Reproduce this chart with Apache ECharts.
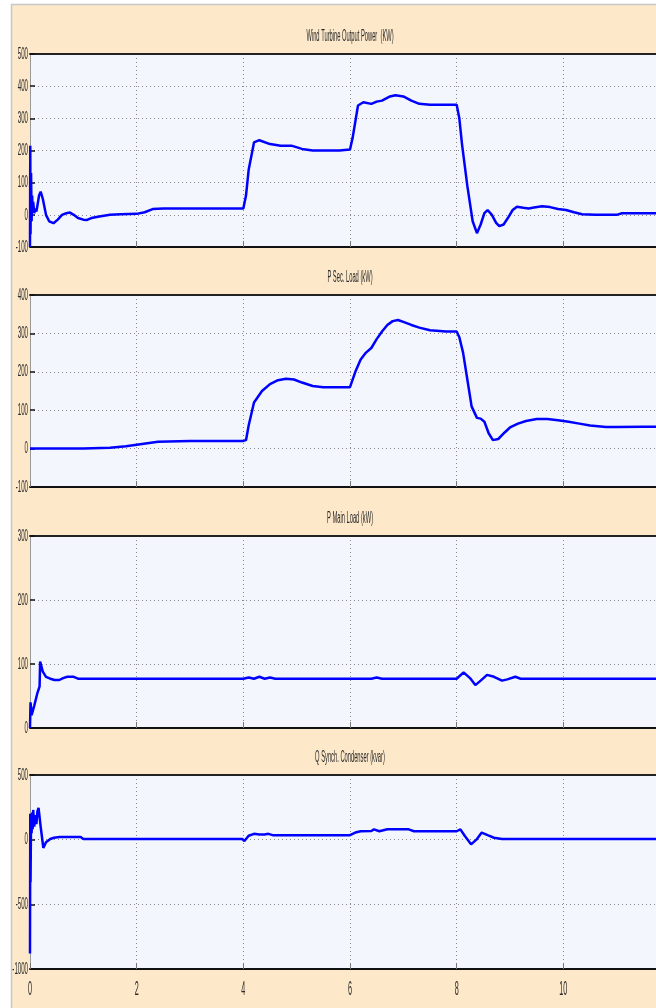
<!DOCTYPE html>
<html>
<head>
<meta charset="utf-8">
<script src="https://cdn.jsdelivr.net/npm/echarts@6/dist/echarts.min.js"></script>
<style>
  html, body { margin: 0; padding: 0; background: #ffffff; }
  #chart { width: 656px; height: 1008px; }
</style>
</head>
<body>
<div id="chart"></div>
<script>
// Panel titles
const titles = [
  'Wind Turbine Output Power  (KW)',
  'P Sec. Load (kW)',
  'P Main Load (kW)',
  'Q Synch. Condenser (kvar)'
];

// Time axis ticks (s)
const xTicks = [0, 2, 4, 6, 8, 10, 12];

// Wind turbine output power (kW)
const windT = [0, 0.005, 0.01, 0.02, 0.03, 0.04, 0.05, 0.06, 0.08, 0.1, 0.12, 0.14, 0.17, 0.2, 0.24, 0.3, 0.36, 0.44, 0.52, 0.6, 0.68, 0.75, 0.82, 0.9, 1.0, 1.07, 1.15, 1.3, 1.5, 1.7, 2.0, 2.15, 2.3, 2.5, 3.0, 3.5, 4.0, 4.05, 4.1, 4.2, 4.3, 4.5, 4.7, 4.9, 5.1, 5.3, 5.5, 5.8, 6.0, 6.05, 6.15, 6.25, 6.4, 6.5, 6.6, 6.75, 6.85, 7.0, 7.15, 7.3, 7.5, 7.8, 8.0, 8.05, 8.1, 8.2, 8.3, 8.38, 8.45, 8.52, 8.58, 8.66, 8.74, 8.8, 8.88, 8.96, 9.05, 9.13, 9.25, 9.35, 9.45, 9.6, 9.75, 9.9, 10.05, 10.2, 10.35, 10.6, 11.0, 11.1, 11.5, 12];
const windP = [-100, 215, -60, 130, -20, 60, 10, 40, 5, 20, 10, 30, 60, 72, 50, 0, -20, -26, -15, 0, 5, 7, 0, -10, -15, -16, -10, -5, 0, 2, 3, 8, 18, 20, 20, 20, 20, 60, 140, 225, 232, 220, 215, 215, 205, 200, 200, 200, 203, 240, 340, 350, 345, 352, 355, 368, 372, 368, 355, 345, 342, 342, 342, 300, 220, 90, -20, -57, -30, 5, 15, 0, -25, -35, -30, -10, 15, 25, 22, 20, 23, 27, 24, 18, 15, 8, 2, 0, 0, 5, 5, 5];

// Secondary load active power (kW)
const secT = [0, 1.0, 1.5, 1.8, 2.1, 2.4, 3.0, 3.5, 4.0, 4.05, 4.1, 4.2, 4.35, 4.5, 4.65, 4.8, 4.95, 5.1, 5.3, 5.5, 5.8, 6.0, 6.1, 6.2, 6.3, 6.4, 6.5, 6.6, 6.7, 6.8, 6.9, 7.0, 7.15, 7.3, 7.5, 7.8, 8.0, 8.05, 8.12, 8.2, 8.28, 8.38, 8.45, 8.52, 8.6, 8.68, 8.78, 8.9, 9.0, 9.15, 9.3, 9.5, 9.7, 9.9, 10.1, 10.3, 10.5, 10.8, 11.0, 11.5, 12];
const secP = [0, 0, 2, 6, 12, 18, 20, 20, 20, 22, 60, 120, 150, 168, 178, 182, 180, 172, 163, 160, 160, 160, 200, 232, 250, 262, 285, 305, 322, 332, 335, 330, 322, 315, 308, 305, 305, 290, 250, 180, 110, 80, 78, 70, 40, 22, 25, 42, 55, 65, 72, 77, 77, 74, 70, 65, 60, 56, 56, 57, 57];

// Main load active power (kW)
const mainT = [0, 0.01, 0.03, 0.08, 0.14, 0.18, 0.19, 0.24, 0.3, 0.38, 0.46, 0.55, 0.62, 0.7, 0.82, 0.9, 2, 4.0, 4.1, 4.2, 4.3, 4.4, 4.5, 4.6, 6.4, 6.5, 6.6, 8.0, 8.13, 8.25, 8.35, 8.45, 8.57, 8.7, 8.85, 8.95, 9.1, 9.2, 12];
const mainP = [0, 40, 20, 35, 55, 65, 104, 88, 80, 77, 75, 75, 78, 80, 80, 77, 77, 77, 79, 77, 80, 77, 79, 77, 77, 79, 77, 77, 87, 78, 67, 74, 83, 80, 74, 76, 80, 77, 77];

// Synchronous condenser reactive power (kvar)
const synT = [0, 0.005, 0.01, 0.02, 0.03, 0.04, 0.05, 0.06, 0.08, 0.1, 0.12, 0.14, 0.16, 0.2, 0.25, 0.3, 0.38, 0.45, 0.55, 0.65, 0.95, 1.0, 3.98, 4.02, 4.1, 4.2, 4.3, 4.4, 4.47, 4.55, 6.0, 6.1, 6.2, 6.4, 6.45, 6.55, 6.7, 7.1, 7.2, 8.0, 8.07, 8.15, 8.27, 8.37, 8.47, 8.58, 8.7, 8.85, 12];
const synQ = [-880, 200, -330, 180, 50, 210, 80, 230, 100, 190, 120, 220, 245, 100, -64, -20, 5, 15, 20, 20, 20, 5, 5, -10, 30, 45, 40, 40, 45, 35, 35, 55, 65, 67, 80, 65, 80, 80, 65, 65, 80, 30, -36, 0, 55, 35, 15, 5, 5];

// Y ticks per panel
const yTicks = [
  [-100, 0, 100, 200, 300, 400, 500],
  [-100, 0, 100, 200, 300, 400],
  [0, 100, 200, 300],
  [-1000, -500, 0, 500]
];

const seriesT = [windT, secT, mainT, synT];
const seriesV = [windP, secP, mainP, synQ];

const font = "'Liberation Sans', Arial, sans-serif";
const textColor = '#2a2a2a';
const squeeze = 0.36;   // narrow, tall lettering
const panels = [
  { top: 54, height: 193 },
  { top: 295, height: 192 },
  { top: 536, height: 192 },
  { top: 775, height: 194 }
];
const plotLeft = 30;

const chart = echarts.init(document.getElementById('chart'), null, { renderer: 'canvas' });

const grid = [], xAxis = [], yAxis = [], series = [];
panels.forEach((p, i) => {
  const ticks = yTicks[i];
  grid.push({ left: plotLeft, right: -14, top: p.top, height: p.height, show: true,
    containLabel: false, outerBoundsMode: 'none',
    backgroundColor: '#f3f6fc', borderWidth: 0 });
  // bottom time axis
  xAxis.push({ type: 'value', gridIndex: i, min: xTicks[0], max: xTicks[xTicks.length - 1],
    interval: xTicks[1] - xTicks[0],
    axisLine: { show: true, onZero: false, lineStyle: { color: '#111', width: 2 } },
    axisTick: { show: true, inside: true, length: 6, lineStyle: { color: '#777' } },
    axisLabel: { show: false },
    splitLine: { show: true, lineStyle: { color: '#8a8a8a', type: [1, 3], width: 1 } } });
  // top frame line
  xAxis.push({ type: 'value', gridIndex: i, position: 'top', min: 0, max: 12, interval: 2,
    axisLine: { show: true, onZero: false, lineStyle: { color: '#222', width: 2 } },
    axisTick: { show: false }, axisLabel: { show: false }, splitLine: { show: false } });
  yAxis.push({ type: 'value', gridIndex: i, min: ticks[0], max: ticks[ticks.length - 1],
    interval: ticks[1] - ticks[0],
    axisLine: { show: true, onZero: false, lineStyle: { color: '#999', width: 1 } },
    axisTick: { show: true, inside: true, length: 5, lineStyle: { color: '#111', width: 1.5 } },
    axisLabel: { show: false },
    splitLine: { show: true, lineStyle: { color: '#8a8a8a', type: [1, 3], width: 1 } } });
  series.push({ type: 'line', xAxisIndex: i * 2, yAxisIndex: i,
    data: seriesT[i].map((t, k) => [t, seriesV[i][k]]),
    showSymbol: false, smooth: false, animation: false, clip: true,
    lineStyle: { color: '#0000ff', width: 2.5 } });
});

const frame = { type: 'rect', shape: { x: 11.5, y: 4.5, width: 660, height: 1010 }, z: -10,
  style: { fill: '#fde8c9', stroke: '#c8c8c8', lineWidth: 1.5 } };

chart.setOption({
  animation: false,
  backgroundColor: '#ffffff',
  graphic: { elements: [frame] },
  grid, xAxis, yAxis, series
});

// Condensed text labels placed through the axes' own scales
const narrowText = (text, x, y, size, align, vAlign) => ({
  type: 'text', x, y, scaleX: squeeze, scaleY: 1, silent: true, z: 50,
  style: { text, fontFamily: font, fontSize: size, fill: textColor,
    align, verticalAlign: vAlign }
});

const labels = [frame];
panels.forEach((p, i) => {
  const centreX = (chart.convertToPixel({ xAxisIndex: i * 2 }, 0) +
                   chart.convertToPixel({ xAxisIndex: i * 2 }, 12)) / 2;
  labels.push(narrowText(titles[i], centreX, p.top - 17, 16, 'center', 'middle'));
  yTicks[i].forEach(v => {
    const py = chart.convertToPixel({ yAxisIndex: i }, v);
    labels.push(narrowText(String(v), plotLeft - 2, py, 17, 'right', 'middle'));
  });
});
const lastY = panels[3].top + panels[3].height;
xTicks.forEach(v => {
  const px = chart.convertToPixel({ xAxisIndex: 6 }, v);
  labels.push(narrowText(String(v), px, lastY + 20, 20, 'center', 'middle'));
});

chart.setOption({ graphic: { elements: labels } });
</script>
</body>
</html>
